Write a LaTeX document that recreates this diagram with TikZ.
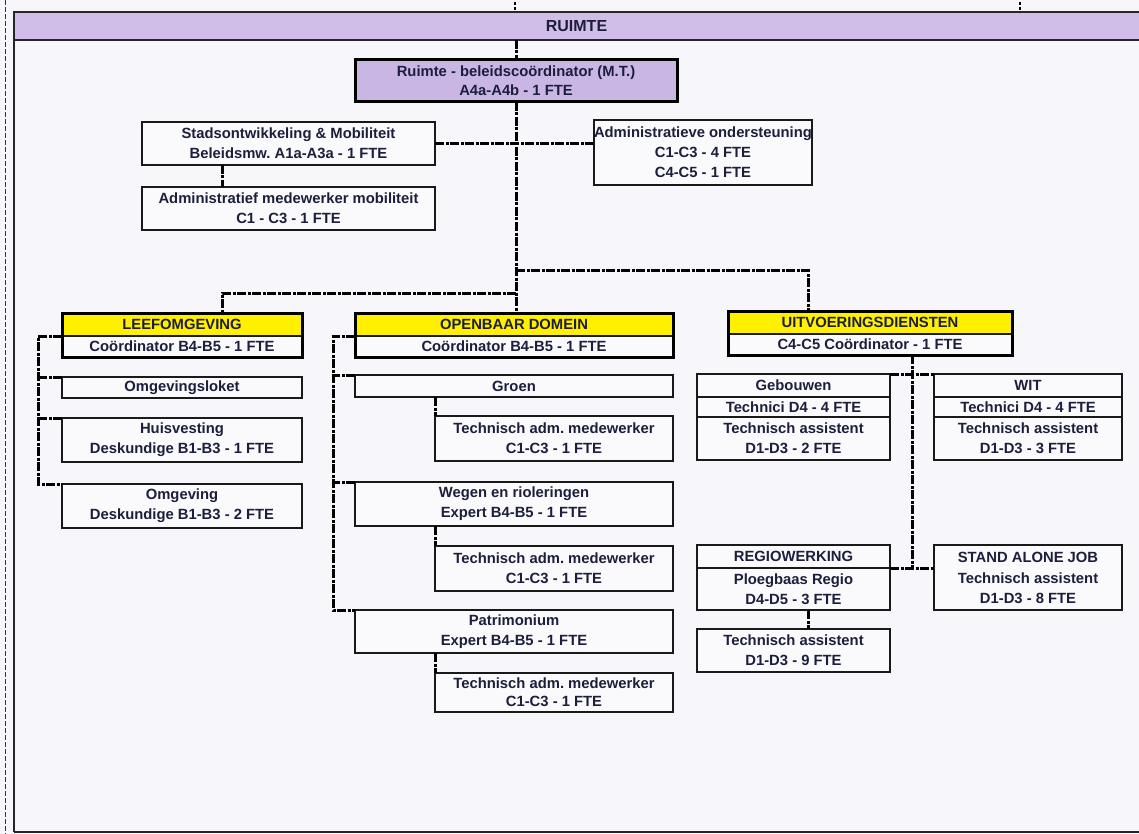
\documentclass[tikz,border=0pt]{standalone}
\usepackage{fontspec}
\setmainfont{Liberation Sans}
\usetikzlibrary{calc}
\frenchspacing
\definecolor{bg}{RGB}{246,246,251}
\definecolor{band}{RGB}{208,190,232}
\definecolor{purp}{RGB}{202,182,228}
\definecolor{yel}{RGB}{255,240,0}
\definecolor{boxf}{RGB}{250,250,253}
\definecolor{txt}{RGB}{28,30,60}
\begin{document}
\begin{tikzpicture}[x=1pt,y=-1pt,
  box/.style={draw=black!90, line width=1.6pt, fill=boxf, inner sep=0pt, outer sep=0pt,
    anchor=north west, align=center, text=txt,
    font=\bfseries\fontsize{14.8}{20}\selectfont},
  conn/.style={line width=3pt, draw=black, dash pattern=on 9pt off 1.5pt on 3pt off 1.5pt},
  heavy/.style={line width=3pt, draw=black},
  frameline/.style={line width=2.6pt, draw=black!85}
]
\useasboundingbox (0,0) rectangle (1139,834);
\fill[bg] (0,0) rectangle (1139,834);

% frame and title band
\node[fill=band, inner sep=0pt, outer sep=0pt, anchor=north west, minimum width=1125pt, minimum height=28pt,
  text=txt, font=\bfseries\fontsize{16}{18}\selectfont] (band) at (14,12) {RUIMTE};
\draw[frameline] (14,832) -- (14,12) -- (1139,12);
\draw[frameline] (14,40) -- (1139,40);
\draw[frameline] (14,832) -- (1139,832);
\draw[line width=0.9pt, dash pattern=on 5pt off 2pt, draw=black!80] (5,0) -- (5,834);
\coordinate (tickA) at (515,2);
\coordinate (tickB) at (1020,2);
\draw[line width=1.2pt, dash pattern=on 3pt off 2pt] (tickA) -- (tickA |- band.north);
\draw[line width=1.2pt, dash pattern=on 3pt off 2pt] (tickB) -- (tickB |- band.north);

% top level
\node[box, fill=purp, minimum width=322pt, minimum height=42pt] (coord) at (355,60)
  {Ruimte - beleidscoördinator (M.T.)\\[-1pt] A4a-A4b - 1 FTE};
\draw[heavy] (coord.north west) rectangle (coord.south east);

\node[box, minimum width=293pt, minimum height=43pt] (stads) at (142,122)
  {Stadsontwikkeling \& Mobiliteit\\ Beleidsmw. A1a-A3a - 1 FTE};
\node[box, minimum width=293pt, minimum height=43pt] (admmob) at (142,187)
  {Administratief medewerker mobiliteit\\ C1 - C3 - 1 FTE};
\node[box, minimum width=216pt, minimum height=65pt] (admond) at (594,120)
  {Administratieve ondersteuning\\ C1-C3 - 4 FTE\\ C4-C5 - 1 FTE};

% level 2 headers
\node[box, fill=yel, minimum width=240pt, minimum height=23pt] (leefh) at (62,313) {LEEFOMGEVING};
\node[box, minimum width=240pt, minimum height=21pt] (leefc) at (62,336) {Coördinator B4-B5 - 1 FTE};
\draw[heavy] (leefh.north west) rectangle (leefc.south east);

\node[box, fill=yel, minimum width=318pt, minimum height=23pt] (odh) at (355,313) {OPENBAAR DOMEIN};
\node[box, minimum width=318pt, minimum height=21pt] (odc) at (355,336) {Coördinator B4-B5 - 1 FTE};
\draw[heavy] (odh.north west) rectangle (odc.south east);

\node[box, fill=yel, minimum width=284pt, minimum height=23pt] (uitvh) at (728,311) {UITVOERINGSDIENSTEN};
\node[box, minimum width=284pt, minimum height=21pt] (uitvc) at (728,334) {C4-C5 Coördinator - 1 FTE};
\draw[heavy] (uitvh.north west) rectangle (uitvc.south east);

% leefomgeving children
\node[box, minimum width=240pt, minimum height=21pt] (omgloket) at (62,377) {Omgevingsloket};
\node[box, minimum width=240pt, minimum height=44pt] (huis) at (62,418) {Huisvesting\\ Deskundige B1-B3 - 1 FTE};
\node[box, minimum width=240pt, minimum height=44pt] (omgev) at (62,484) {Omgeving\\ Deskundige B1-B3 - 2 FTE};

% openbaar domein children
\node[box, minimum width=318pt, minimum height=22pt] (groen) at (355,375) {Groen};
\node[box, minimum width=238pt, minimum height=45pt] (tech1) at (435,416) {Technisch adm. medewerker\\ C1-C3 - 1 FTE};
\node[box, minimum width=318pt, minimum height=44pt] (wegen) at (355,482) {Wegen en rioleringen\\ Expert B4-B5 - 1 FTE};
\node[box, minimum width=238pt, minimum height=45pt] (tech2) at (435,546) {Technisch adm. medewerker\\ C1-C3 - 1 FTE};
\node[box, minimum width=318pt, minimum height=43pt] (patr) at (355,610) {Patrimonium\\ Expert B4-B5 - 1 FTE};
\node[box, minimum width=238pt, minimum height=39pt] (tech3) at (435,673) {Technisch adm. medewerker\\[-2pt] C1-C3 - 1 FTE};

% uitvoeringsdiensten children
\node[box, minimum width=193pt, minimum height=23pt] (geb1) at (697,374) {Gebouwen};
\node[box, minimum width=193pt, minimum height=20pt] (geb2) at (697,397) {Technici D4 - 4 FTE};
\node[box, minimum width=193pt, minimum height=43pt] (geb3) at (697,417) {Technisch assistent\\ D1-D3 - 2 FTE};
\node[box, minimum width=188pt, minimum height=23pt] (wit1) at (934,374) {WIT};
\node[box, minimum width=188pt, minimum height=20pt] (wit2) at (934,397) {Technici D4 - 4 FTE};
\node[box, minimum width=188pt, minimum height=43pt] (wit3) at (934,417) {Technisch assistent\\ D1-D3 - 3 FTE};

\node[box, minimum width=193pt, minimum height=23pt] (reg1) at (697,545) {REGIOWERKING};
\node[box, minimum width=193pt, minimum height=42pt] (reg2) at (697,568) {Ploegbaas Regio\\ D4-D5 - 3 FTE};
\node[box, minimum width=188pt, minimum height=65pt] (stand) at (934,545)
  {STAND ALONE JOB\\[1pt] Technisch assistent\\ D1-D3 - 8 FTE};
\node[box, minimum width=193pt, minimum height=43pt] (techreg) at (697,629) {Technisch assistent\\ D1-D3 - 9 FTE};

% connectors
\draw[conn] (band.south -| coord.north) -- (coord.north);
\coordinate (j1) at ($(coord.south)+(0,168)$);
\coordinate (j2) at ($(coord.south)+(0,191)$);
\draw[conn] (coord.south) -- (coord.south |- odh.north);
\draw[conn] (stads.east) -- (stads.east -| admond.west);
\coordinate (smx) at ($(stads.south west)+(80,0)$);
\draw[conn] (smx) -- (smx |- admmob.north);
\coordinate (ux) at ($(uitvh.north west)+(80,0)$);
\draw[conn] (j1) -- (j1 -| ux) -- (ux);
\coordinate (lx) at ($(leefh.north west)+(160,0)$);
\draw[conn] (j2) -- (j2 -| lx) -- (lx);

\draw[conn] (leefc.north west) -- ++(-24,0) |- (omgev.north west);
\draw[conn] (omgloket.north west) -- ++(-24,0);
\draw[conn] (huis.north west) -- ++(-24,0);

\draw[conn] (odc.north west) -- ++(-22,0) |- (patr.north west);
\draw[conn] (groen.north west) -- ++(-22,0);
\draw[conn] (wegen.north west) -- ++(-22,0);
\draw[conn] (tech1.north west |- groen.south) -- (tech1.north west);
\draw[conn] (tech2.north west |- wegen.south) -- (tech2.north west);
\draw[conn] (tech3.north west |- patr.south) -- (tech3.north west);

\coordinate (bx) at ($(geb1.north east)!0.5!(wit1.north west)$);
\draw[conn] (bx |- uitvc.south) -- (bx |- reg1.south);
\draw[conn] (geb1.north east) -- (wit1.north west);
\draw[conn] (reg1.south east) -- (reg1.south east -| stand.west);
\coordinate (rx) at ($(reg2.south west)+(111,0)$);
\draw[conn] (rx) -- (rx |- techreg.north);
\end{tikzpicture}
\end{document}
